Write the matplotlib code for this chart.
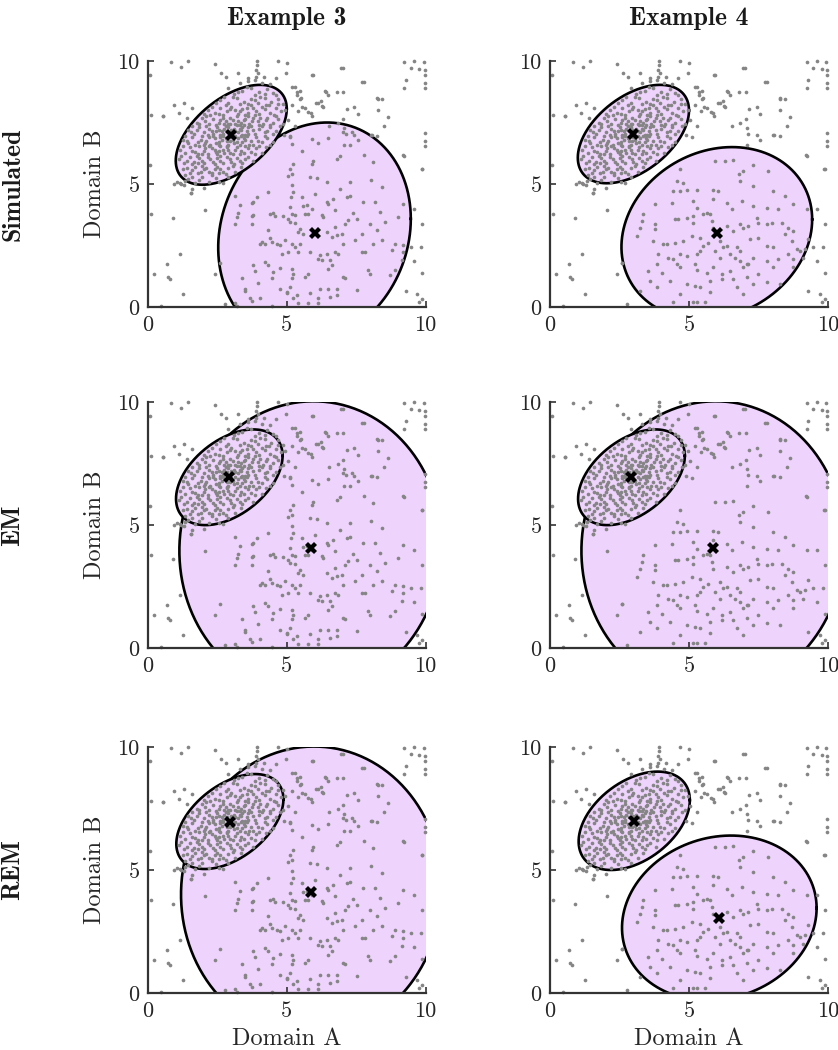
import numpy as np
import matplotlib
matplotlib.use("Agg")
import matplotlib.pyplot as plt

# ---------------- data ----------------
col_titles = ["Example 3", "Example 4"]
row_titles = ["Simulated", "EM", "REM"]
tick_vals = [0, 5, 10]
tick_labels = ["0", "5", "10"]
x_label = "Domain A"
y_label = "Domain B"

# background (uniform) points, shared by both examples
noise_pts = [
    (0.84, 9.97), (1.2, 9.77), (1.44, 10.0), (2.42, 9.86), (2.64, 9.5), (2.82, 9.33), (3.24, 9.5),
    (3.93, 10.0), (3.93, 9.84), (3.9, 9.64), (3.96, 9.5), (3.6, 9.3), (3.84, 9.23), (4.17, 9.33),
    (4.68, 10.0), (5.01, 9.9), (4.98, 9.5), (5.28, 8.96), (5.46, 8.79), (5.37, 8.62), (5.52, 8.49),
    (5.94, 9.43), (6.12, 8.29), (6.3, 8.15), (6.42, 8.76), (7.01, 9.7), (7.79, 9.14), (8.27, 8.49),
    (9.23, 9.95), (9.59, 10.0), (9.77, 9.68), (9.93, 9.97), (9.98, 9.64), (9.98, 9.43), (9.98, 9.1),
    (9.98, 8.9), (9.23, 8.9), (9.29, 9.23), (9.47, 9.7), (5.64, 8.08), (5.88, 7.88), (6.53, 7.34),
    (6.83, 7.48), (7.07, 7.27), (7.13, 7.03), (7.43, 7.0), (7.55, 6.8), (8.03, 7.0), (8.27, 6.94),
    (8.51, 7.34), (7.07, 6.6), (9.23, 6.13), (9.89, 5.59), (9.98, 6.73), (9.98, 6.53), (9.98, 7.07),
    (0.54, 7.75), (0.06, 9.43), (0.12, 7.81), (0.94, 4.98), (1.14, 5.05), (1.32, 5.14), (1.56, 4.64),
    (0.9, 3.63), (2.04, 3.93), (1.14, 2.15), (0.7, 1.74), (0.72, 1.2), (0.78, 1.15), (0.22, 1.34),
    (1.26, 0.53), (2.4, 1.34), (2.58, 1.77), (0.1, 3.77), (2.76, 0.12), (0.06, 5.79), (0.47, 0.04),
    (9.59, 3.97), (9.89, 3.36), (9.47, 2.42), (9.83, 2.42), (9.59, 1.88), (9.89, 1.4), (9.29, 0.66),
    (9.71, 0.53), (9.89, 0.32), (9.77, 0.19), (6.95, 9.73), (7.72, 9.15), (6.38, 8.78), (6.47, 8.61),
    (6.8, 8.74), (7.04, 8.72), (6.04, 8.31), (6.24, 8.38), (6.26, 8.18), (5.54, 8.11), (5.42, 7.97),
    (5.78, 7.91), (5.9, 7.77), (7.16, 8.04), (7.44, 8.15), (7.56, 7.84), (8.28, 8.47), (8.44, 8.47),
    (8.28, 8.0), (8.64, 7.73), (7.04, 7.64), (8.06, 6.99), (9.2, 6.18), (9.86, 5.61), (5.9, 9.42),
    (5.2, 8.96), (5.36, 8.74), (5.48, 8.47),
]

# dense cluster around (3, 7), shared by both examples
small_cluster_pts = [
    (3.6, 9.2), (4.1, 9.1), (3.9, 9.35), (4.4, 9.05), (3.3, 9.1), (4.6, 9.3),
    (3.4, 8.8), (3.7, 8.9), (4.0, 8.75), (4.3, 8.85), (3.1, 8.65), (4.5, 8.7), (3.85, 8.6), (2.9, 8.9),
    (2.6, 8.4), (2.9, 8.3), (3.2, 8.5), (3.45, 8.35), (3.7, 8.45), (3.95, 8.3), (4.2, 8.5), (4.45, 8.35),
    (4.7, 8.45), (3.05, 8.55), (3.6, 8.25), (4.05, 8.55), (2.75, 8.55), (4.85, 8.25),
    (2.15, 8.0), (2.4, 7.9), (2.6, 8.1), (2.85, 7.95), (3.0, 8.15), (3.25, 7.85), (3.4, 8.05), (3.6, 7.9),
    (3.8, 8.1), (4.0, 7.85), (4.2, 8.05), (4.4, 7.9), (4.6, 8.1), (4.8, 7.95), (3.15, 8.0), (3.7, 8.2),
    (2.7, 7.8), (4.1, 8.15), (3.5, 7.8), (4.95, 8.0),
    (1.75, 7.5), (1.95, 7.7), (2.2, 7.45), (2.35, 7.65), (2.55, 7.5), (2.7, 7.7), (2.9, 7.45), (3.05, 7.6),
    (3.2, 7.75), (3.35, 7.5), (3.5, 7.65), (3.65, 7.45), (3.8, 7.7), (3.95, 7.55), (4.15, 7.45), (4.3, 7.7),
    (4.5, 7.5), (4.7, 7.65), (2.1, 7.75), (2.8, 7.55), (3.3, 7.4), (3.6, 7.75), (4.05, 7.7), (4.85, 7.45),
    (2.45, 7.4),
    (1.45, 7.2), (1.65, 7.05), (1.85, 7.3), (2.0, 7.1), (2.2, 7.25), (2.35, 7.05), (2.5, 7.3), (2.65, 7.15),
    (2.8, 7.35), (2.95, 7.05), (3.1, 7.25), (3.25, 7.1), (3.4, 7.3), (3.55, 7.15), (3.7, 7.35), (3.85, 7.05),
    (4.0, 7.25), (4.2, 7.1), (4.4, 7.3), (4.6, 7.15), (2.6, 7.0), (3.2, 7.4), (3.0, 7.2), (2.9, 7.3),
    (3.5, 7.0), (1.6, 7.35), (4.75, 7.35), (2.15, 7.0),
    (1.25, 6.8), (1.45, 6.65), (1.6, 6.9), (1.8, 6.7), (1.95, 6.95), (2.1, 6.75), (2.25, 6.6), (2.4, 6.85),
    (2.55, 6.7), (2.7, 6.95), (2.85, 6.75), (3.0, 6.9), (3.1, 6.65), (3.25, 6.85), (3.4, 6.7), (3.55, 6.95),
    (3.7, 6.75), (3.9, 6.9), (4.1, 6.7), (4.3, 6.85), (4.5, 6.7), (2.9, 6.6), (2.6, 6.9), (3.3, 6.6),
    (2.0, 6.6), (3.8, 6.6), (2.35, 6.95), (1.35, 6.95),
    (1.15, 6.4), (1.35, 6.25), (1.5, 6.5), (1.7, 6.3), (1.85, 6.55), (2.0, 6.35), (2.15, 6.2), (2.3, 6.45),
    (2.45, 6.3), (2.6, 6.55), (2.75, 6.25), (2.9, 6.4), (3.05, 6.2), (3.2, 6.5), (3.35, 6.35), (3.5, 6.55),
    (3.7, 6.3), (3.9, 6.45), (4.1, 6.25), (4.25, 6.5), (2.5, 6.2), (2.2, 6.55), (2.85, 6.55), (1.95, 6.2),
    (3.3, 6.2),
    (1.1, 6.0), (1.3, 5.85), (1.5, 6.1), (1.65, 5.9), (1.85, 6.05), (2.0, 5.85), (2.15, 6.1), (2.35, 5.9),
    (2.5, 6.05), (2.7, 5.85), (2.85, 6.1), (3.0, 5.9), (3.2, 6.05), (3.4, 5.85), (3.6, 6.1), (3.8, 5.95),
    (2.4, 5.8), (1.75, 6.15), (2.6, 6.15), (3.1, 5.8),
    (1.25, 5.6), (1.5, 5.45), (1.7, 5.7), (1.9, 5.5), (2.1, 5.65), (2.3, 5.45), (2.5, 5.7), (2.7, 5.5),
    (2.9, 5.65), (3.15, 5.5), (3.35, 5.7), (1.95, 5.75), (2.55, 5.45),
    (1.45, 5.2), (1.7, 5.05), (1.95, 5.3), (2.2, 5.1), (2.45, 5.25), (2.7, 5.05), (2.9, 5.3), (1.2, 5.0),
    (1.05, 5.1), (1.6, 4.8), (1.3, 4.95), (2.0, 4.85), (1.55, 4.65),
    (0.55, 7.75), (1.1, 7.9), (0.95, 8.2), (1.3, 8.3), (1.6, 8.1), (1.4, 7.7),
    (5.2, 8.2), (5.05, 7.6), (5.3, 7.35), (5.1, 6.9), (4.9, 7.0),
    (2.7, 7.05), (2.8, 6.85), (3.15, 6.95), (3.35, 7.2), (2.95, 7.45), (3.05, 6.8), (2.75, 7.25),
    (3.25, 7.55), (3.45, 6.85), (2.55, 6.6), (3.6, 7.3), (2.45, 7.15), (3.15, 7.15), (2.85, 6.5), (3.4, 7.0),
    (3.55, 8.95), (4.2, 8.65), (3.25, 8.75),
    (2.8, 8.2), (3.3, 8.25), (3.85, 8.4), (4.35, 8.2), (4.6, 8.6), (2.45, 8.3),
    (2.3, 8.15), (2.55, 7.85), (2.95, 8.05), (3.3, 7.95), (3.55, 8.1), (3.9, 7.95), (4.25, 8.2), (4.55, 7.8),
    (4.7, 8.25), (2.0, 7.85),
    (1.85, 7.45), (2.05, 7.55), (2.25, 7.8), (2.6, 7.6), (2.95, 7.7), (3.15, 7.45), (3.45, 7.6), (3.75, 7.55),
    (4.0, 7.4), (4.25, 7.6), (4.6, 7.75), (4.4, 7.4), (3.85, 7.8),
    (1.55, 7.1), (1.75, 7.2), (2.1, 7.35), (2.3, 7.15), (2.55, 7.2), (2.75, 7.45), (3.05, 7.1), (3.3, 7.25),
    (3.6, 7.05), (3.8, 7.2), (4.1, 7.35), (4.3, 7.15), (4.5, 7.05), (3.45, 7.4), (2.85, 7.15),
    (1.4, 6.75), (1.7, 6.6), (1.9, 6.8), (2.2, 6.9), (2.45, 6.65), (2.65, 6.8), (2.95, 6.75), (3.2, 6.7),
    (3.5, 6.8), (3.65, 6.6), (3.95, 6.75), (4.2, 6.95), (4.4, 6.6), (2.05, 6.65), (3.35, 6.95),
    (1.25, 6.55), (1.6, 6.35), (1.8, 6.2), (2.05, 6.45), (2.4, 6.4), (2.7, 6.4), (2.95, 6.25), (3.15, 6.4),
    (3.45, 6.25), (3.6, 6.45), (3.85, 6.2), (4.0, 6.55), (2.55, 6.35),
    (1.2, 6.15), (1.4, 5.95), (1.6, 5.8), (1.95, 5.95), (2.25, 6.0), (2.6, 5.95), (2.95, 6.0), (3.3, 5.95),
    (3.5, 6.0), (1.8, 5.85),
    (1.4, 5.65), (1.6, 5.55), (1.8, 5.45), (2.0, 5.6), (2.4, 5.6), (2.6, 5.6), (2.8, 5.4), (3.05, 5.75),
    (2.2, 5.5),
    (1.6, 5.3), (1.85, 5.15), (2.3, 5.35), (2.55, 5.1), (1.35, 5.35),
]

# broad cluster around (6, 3) - Example 3
big_cluster_ex3 = [
    (5.18, 4.94), (5.24, 4.67), (5.16, 4.47), (5.54, 4.47), (6.02, 4.6), (6.44, 4.26), (6.5, 4.17),
    (6.68, 4.40), (6.92, 4.80), (7.16, 4.47), (7.28, 4.53), (7.76, 4.26), (8.18, 4.26), (8.42, 4.87),
    (9.2, 4.2), (5.12, 4.06), (5.18, 3.79), (5.3, 3.72), (5.6, 4.09), (5.72, 4.13), (5.9, 3.99),
    (5.66, 3.79), (5.78, 3.79), (5.06, 3.59), (5.12, 3.45), (5.3, 3.41), (5.48, 3.18), (5.42, 3.05),
    (5.6, 2.98), (6.26, 3.72), (6.32, 3.66), (6.74, 3.93), (7.4, 3.82), (7.52, 3.59), (7.7, 2.98),
    (8.0, 3.39), (8.24, 3.12), (8.36, 3.86), (8.54, 3.45), (9.02, 3.66), (7.1, 3.39), (7.22, 3.52),
    (6.98, 2.98), (6.8, 2.91), (6.44, 3.05), (6.62, 2.85), (5.18, 2.58), (5.3, 2.44), (5.48, 2.58),
    (5.06, 2.24), (5.42, 2.24), (5.84, 2.24), (6.14, 1.97), (6.2, 2.10), (6.26, 1.9), (6.44, 2.17),
    (6.56, 1.9), (6.74, 2.24), (6.86, 2.17), (6.62, 1.7), (6.5, 1.56), (7.04, 2.58), (7.46, 2.71),
    (7.7, 2.24), (7.82, 2.24), (8.12, 2.58), (8.42, 2.71), (8.78, 2.31), (8.9, 2.58), (9.2, 2.51),
    (9.2, 2.24), (9.14, 1.9), (8.9, 1.5), (8.72, 1.29), (5.18, 1.56), (5.24, 1.36), (5.66, 1.23),
    (5.78, 1.36), (5.18, 1.16), (5.12, 0.82), (5.0, 0.62), (5.36, 0.48), (5.24, 0.35), (5.84, 0.55),
    (5.78, 0.15), (6.14, 0.35), (6.2, 0.75), (6.5, 0.75), (6.8, 0.75), (6.56, 0.42), (6.8, 0.48),
    (7.04, 1.23), (7.1, 1.16), (7.94, 1.5), (7.52, 0.69), (8.0, 1.36), (6.74, 3.25), (5.42, 0.15),
    (6.14, 0.15),
    (3.14, 4.53), (3.32, 4.13), (3.74, 4.22), (3.8, 4.26), (3.92, 4.49), (4.34, 4.67), (3.26, 3.82),
    (3.2, 3.66), (3.14, 3.39), (3.74, 3.68), (3.8, 3.72), (3.74, 3.39), (4.4, 3.79), (4.52, 3.82),
    (4.58, 3.68), (4.88, 3.68), (4.34, 3.12), (4.1, 2.64), (4.04, 2.55), (4.22, 2.58), (4.4, 2.82),
    (4.46, 2.64), (4.64, 2.58), (4.76, 2.51), (4.94, 2.71), (4.82, 2.17), (3.8, 1.7), (3.86, 1.47),
    (4.22, 1.83), (4.34, 1.7), (4.52, 1.43), (4.76, 1.6), (4.46, 1.16), (3.38, 1.16), (3.5, 0.75),
    (3.5, 0.66), (3.98, 0.98), (3.68, 0.35), (3.74, 0.25), (4.04, 0.35), (4.76, 0.75), (5.0, 0.55),
    (4.46, 0.04), (3.14, 0.15), (3.2, 0.04),
    (5.9, 6.83), (6.14, 6.66), (6.5, 6.89), (5.54, 6.35), (5.18, 6.62), (5.12, 6.96), (5.24, 5.81),
    (5.12, 5.61), (5.06, 5.34), (5.18, 5.41), (5.9, 5.81), (5.96, 5.95), (6.8, 6.02), (6.92, 6.15),
    (7.28, 6.58), (7.04, 7.12), (7.34, 7.12), (7.8, 6.18), (8.12, 5.91), (5.84, 5.27), (6.08, 5.23),
    (6.44, 5.1), (7.28, 5.1), (8.04, 5.18),
]

# broad cluster around (6, 3) - Example 4
big_cluster_ex4 = [
    (5.94, 5.95), (6.29, 5.95), (6.57, 5.99), (7.31, 5.79), (7.85, 5.52), (6.81, 5.41), (6.95, 5.52),
    (4.68, 5.59), (4.56, 5.11), (4.80, 5.05), (4.44, 4.71), (4.68, 4.71), (4.92, 4.74), (5.28, 4.74),
    (5.88, 4.74), (6.06, 4.71), (6.83, 5.11), (7.31, 4.91), (8.03, 4.71), (8.45, 4.51), (3.78, 4.17),
    (4.38, 4.24), (5.16, 4.30), (5.28, 4.04), (5.88, 4.37), (6.35, 4.24), (6.53, 3.97), (6.89, 4.30),
    (7.31, 4.10), (7.79, 4.04), (8.21, 3.97), (8.75, 4.17), (9.23, 3.97), (3.36, 3.77), (3.30, 3.50),
    (3.24, 3.23), (3.78, 3.36), (3.78, 3.16), (4.50, 3.56), (4.62, 3.56), (4.92, 3.63), (5.16, 3.70),
    (5.16, 3.43), (5.52, 3.77), (5.64, 3.83), (5.76, 3.77), (5.82, 3.50), (5.88, 3.23), (6.35, 3.29),
    (6.59, 3.09), (6.83, 3.36), (6.95, 3.23), (7.13, 3.29), (7.43, 3.63), (7.49, 3.43), (7.79, 3.36),
    (7.97, 3.43), (8.33, 3.43), (8.57, 3.23), (8.75, 3.09), (9.29, 2.75), (3.12, 2.89), (3.72, 2.69),
    (4.08, 2.55), (4.20, 2.58), (4.50, 2.62), (4.80, 2.69), (5.10, 2.89), (5.40, 2.82), (5.52, 2.48),
    (5.70, 2.62), (6.12, 2.69), (6.24, 2.42), (6.35, 2.48), (6.71, 2.42), (6.83, 2.28), (7.19, 2.75),
    (7.49, 2.82), (7.79, 2.48), (8.03, 2.42), (8.45, 2.96), (8.69, 2.69), (8.87, 2.35), (9.17, 2.35),
    (3.90, 2.15), (4.26, 1.98), (4.44, 1.94), (4.68, 2.15), (4.92, 2.08), (5.28, 2.15), (5.40, 2.28),
    (5.94, 2.28), (6.12, 2.01), (6.47, 2.17), (6.65, 2.01), (6.83, 1.88), (7.13, 1.74), (7.31, 2.01),
    (7.79, 1.88), (8.21, 1.94), (8.57, 2.15), (8.75, 1.94), (8.99, 2.28), (2.58, 1.77), (3.54, 1.47),
    (3.84, 1.74), (4.02, 1.40), (4.56, 1.74), (4.68, 1.61), (5.22, 1.74), (5.28, 1.50), (5.64, 1.40),
    (5.88, 1.61), (6.18, 1.34), (6.47, 1.47), (6.95, 1.61), (7.07, 1.74), (7.49, 1.34), (8.03, 1.61),
    (8.75, 1.61), (9.11, 2.01), (3.60, 1.07), (4.32, 1.07), (4.92, 0.93), (5.22, 0.86), (5.40, 0.80),
    (5.76, 1.07), (6.18, 1.13), (6.59, 1.13), (7.07, 1.20), (7.31, 0.93), (7.79, 1.00), (8.27, 0.93),
    (3.84, 0.80), (3.24, 0.66), (4.68, 0.53), (5.28, 0.19), (5.58, 0.19), (5.76, 0.59), (6.71, 0.80),
    (6.95, 0.53), (4.44, 0.19), (5.16, 0.19),
]

# component estimates per panel: (centre x, centre y, half-extent x, half-extent y, correlation)
sim_ex3 = [(6.0, 3.0, 3.47, 4.5, 0.13), (3.0, 7.0, 2.0, 2.03, 0.52)]
sim_ex4 = [(6.0, 3.0, 3.43, 3.5, 0.16), (3.0, 7.03, 2.0, 2.0, 0.48)]
em_ex3 = [(5.86, 4.08, 4.73, 5.95, 0.022), (2.93, 6.94, 1.92, 1.945, 0.45)]
em_ex4 = [(5.86, 4.08, 4.73, 5.95, 0.022), (2.93, 6.94, 1.92, 1.945, 0.45)]
rem_ex3 = [(5.89, 4.12, 4.70, 5.90, 0.02), (2.95, 6.97, 1.93, 1.93, 0.47)]
rem_ex4 = [(6.09, 3.05, 3.5, 3.35, 0.12), (3.03, 7.0, 2.0, 2.0, 0.42)]

panel_components = [[sim_ex3, sim_ex4], [em_ex3, em_ex4], [rem_ex3, rem_ex4]]
column_points = [noise_pts + small_cluster_pts + big_cluster_ex3,
                 noise_pts + small_cluster_pts + big_cluster_ex4]

# ---------------- style ----------------
FILL = "#EED4FC"
DOT = "#858585"
SPINE = "#333333"
plt.rcParams["font.family"] = ["cmr10", "DejaVu Serif"]
plt.rcParams["axes.formatter.use_mathtext"] = True

fig = plt.figure(figsize=(8.38, 10.5), dpi=100)
col_left = [148 / 838, 550 / 838]
col_w = [277.5 / 838, 278 / 838]
row_bottom = [1 - 307 / 1050, 1 - 648 / 1050, 1 - 993 / 1050]
row_h = 246 / 1050

t = np.linspace(0, 2 * np.pi, 400)


def ellipse_xy(c):
    cx, cy, sx, sy, rho = c
    ex = cx + sx * np.cos(t)
    ey = cy + sy * (rho * np.cos(t) + np.sqrt(1 - rho ** 2) * np.sin(t))
    return ex, ey


for r in range(3):
    for c in range(2):
        ax = fig.add_axes([col_left[c], row_bottom[r], col_w[c], row_h])
        comps = panel_components[r][c]
        for k, comp in enumerate(comps):
            ex, ey = ellipse_xy(comp)
            ax.fill(ex, ey, facecolor=FILL, edgecolor="none", zorder=1 + 0.1 * k)
            ax.plot(ex, ey, color="black", lw=1.9, zorder=1.05 + 0.1 * k)
        pts = np.array(column_points[c])
        ax.scatter(pts[:, 0], pts[:, 1], s=7, color=DOT, linewidths=0, zorder=3, clip_on=False)
        for comp in comps:
            ax.plot(comp[0], comp[1], marker="X", color="black", ms=8.5, mew=0, zorder=4)
        ax.set_xlim(0, 10)
        ax.set_ylim(0, 10)
        for s in ["top", "right"]:
            ax.spines[s].set_visible(False)
        for s in ["left", "bottom"]:
            ax.spines[s].set_color(SPINE)
            ax.spines[s].set_linewidth(1.6)
            ax.spines[s].set_zorder(5)
        ax.set_xticks(tick_vals)
        ax.set_yticks(tick_vals)
        ax.set_xticklabels(tick_labels)
        ax.set_yticklabels(tick_labels)
        ax.tick_params(direction="in", length=4, width=1.2, color=SPINE,
                       labelsize=16, labelcolor="#262626", pad=6)
        if c == 0:
            ax.set_ylabel(y_label, fontsize=17.5, color="#262626", labelpad=8)
        if r == 2:
            ax.set_xlabel(x_label, fontsize=17.5, color="#262626", labelpad=5)

for c in range(2):
    fig.text(col_left[c] + col_w[c] / 2, 1 - 19 / 1050, col_titles[c], family="cmb10",
             fontsize=18.5, ha="center", va="center", color="#1a1a1a")
for r in range(3):
    fig.text(13 / 838, row_bottom[r] + row_h / 2, row_titles[r], family="cmb10",
             fontsize=18.5, ha="center", va="center", rotation=90, color="#1a1a1a")

fig.savefig("out.png", dpi=100)
